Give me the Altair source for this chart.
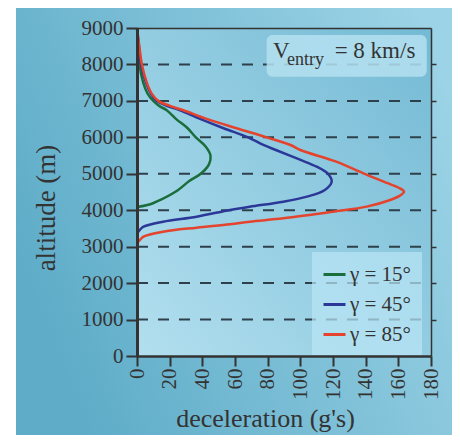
import altair as alt
import pandas as pd

FONT = "Liberation Serif"
TXT = "#333333"

series_labels = ["γ = 15°", "γ = 45°", "γ = 85°"]
series_colors = ["#1b6d3b", "#2b3898", "#e4432d"]

# altitude (m) and deceleration (g's)
alt_15 = [9000, 8500, 8000, 7500, 7200, 7000, 6850, 6750, 6500, 6250, 6000, 5750, 5500, 5250, 5000, 4800, 4550, 4300, 4150, 4090]
g_15 = [0, 0.8, 1.5, 3.8, 6.5, 10, 14, 18, 24, 31, 36, 42, 45, 44, 39, 32, 25, 15, 7, 0]

alt_45 = [9000, 8500, 8000, 7500, 7200, 7000, 6850, 6750, 6500, 6250, 6000, 5800, 5653, 5400, 5195, 4995, 4784, 4555, 4372, 4235, 4098, 4007, 3823, 3686, 3548, 3450, 3367]
g_45 = [0, 1.2, 2.5, 5.5, 8.5, 12, 19, 26, 39, 53, 68, 77, 85, 99, 110, 117, 119.2, 115, 104, 89.6, 69, 57, 36.5, 16, 4, 1.5, 0]

alt_85 = [9000, 8500, 8000, 7500, 7200, 7000, 6850, 6750, 6500, 6250, 6000, 5790, 5653, 5332, 5013, 4750, 4600, 4510, 4400, 4281, 4098, 3960, 3777, 3686, 3613, 3521, 3411, 3275, 3170, 3093]
g_85 = [0, 1.4, 3, 6, 9, 13, 21, 28, 43, 61, 79.5, 94, 100, 122, 138.6, 153, 161, 163.5, 161, 155, 140.6, 120, 89.6, 69, 57, 36.5, 16, 4, 1.5, 0]

x_ticks = list(range(0, 181, 20))
y_ticks = list(range(0, 9001, 1000))
grid_alts = list(range(1000, 8001, 1000))

ann_text = ["V", "entry", "= 8 km/s"]
ann_x = [83.3, 91.8, 121.0]
ann_y = [8178, 7986, 8178]
ann_size = [23, 18, 23]

box_x = [79.4, 177.4]
box_y = [7665, 8809]

rows = []
for lab, alts, gs in [(series_labels[0], alt_15, g_15),
                      (series_labels[1], alt_45, g_45),
                      (series_labels[2], alt_85, g_85)]:
    for i, (a, g) in enumerate(zip(alts, gs)):
        rows.append({"series": lab, "alt": a, "g": g, "i": i})
df = pd.DataFrame(rows)

W, H = 294, 328
xscale = alt.Scale(domain=[0, 180], nice=False, zero=False)
yscale = alt.Scale(domain=[0, 9000], nice=False)

one = pd.DataFrame({"k": [0]})

outer = alt.Chart(one).mark_rect(
    fill=alt.Gradient(gradient="linear",
                      stops=[alt.GradientStop(color="#5eacc8", offset=0),
                             alt.GradientStop(color="#9cd3e6", offset=1)],
                      x1=0, y1=0.6, x2=1, y2=0.2)
).encode(x=alt.value(-121), x2=alt.value(315), y=alt.value(-20), y2=alt.value(407))

inner = alt.Chart(one).mark_rect(
    fill=alt.Gradient(gradient="linear",
                      stops=[alt.GradientStop(color="#b2dfef", offset=0),
                             alt.GradientStop(color="#74bad4", offset=1)],
                      x1=0, y1=1, x2=1, y2=0)
).encode(x=alt.value(0), x2=alt.value(W), y=alt.value(0), y2=alt.value(H))

grid = alt.Chart(pd.DataFrame({"alt": grid_alts})).mark_rule(
    strokeDash=[11, 10], color="#2e404b", strokeWidth=2
).encode(
    y=alt.Y("alt:Q", scale=yscale,
            axis=alt.Axis(orient="right", labels=False, ticks=True, tickSize=5, tickWidth=1.5,
                          tickColor=TXT, domain=True, domainColor=TXT, domainWidth=1.5,
                          grid=False, values=grid_alts, title=None, zindex=1)),
    x=alt.value(0), x2=alt.value(W),
)

box = alt.Chart(pd.DataFrame({"x0": [box_x[0]], "x1": [box_x[1]], "y0": [box_y[0]], "y1": [box_y[1]]})).mark_rect(
    fill="#b4e0f0", opacity=0.85, cornerRadius=6
).encode(
    x=alt.X("x0:Q", scale=xscale,
            axis=alt.Axis(orient="top", labels=False, ticks=False, grid=False, title=None,
                          domain=True, domainColor=TXT, domainWidth=1.5, zindex=1)),
    x2="x1",
    y=alt.Y("y0:Q", scale=yscale, axis=None),
    y2="y1",
)

lines = alt.Chart(df).mark_line(strokeWidth=2.5, interpolate="catmull-rom").encode(
    x=alt.X("g:Q", scale=xscale,
            axis=alt.Axis(orient="bottom", values=x_ticks, labelAngle=270, labelAlign="right",
                          labelBaseline="middle", labelFont=FONT, labelFontSize=21, labelColor=TXT,
                          labelPadding=2, tickSize=10, tickWidth=2, tickColor=TXT,
                          domainColor=TXT, domainWidth=2.5, grid=False,
                          title="deceleration (g's)", titleFont=FONT, titleFontSize=26,
                          titleFontWeight="normal", titleColor=TXT, titleX=128, titleY=70,
                          titleAlign="center", titleBaseline="alphabetic", zindex=1,
                          labelOverlap=False)),
    y=alt.Y("alt:Q", scale=yscale,
            axis=alt.Axis(orient="left", values=y_ticks, format="d", labelFont=FONT, labelFontSize=21,
                          labelColor=TXT, labelPadding=3, tickSize=11, tickWidth=2, tickColor=TXT,
                          domainColor=TXT, domainWidth=3, grid=False,
                          title="altitude (m)", titleFont=FONT, titleFontSize=27,
                          titleFontWeight="normal", titleColor=TXT, titleX=-83, titleY=179.5,
                          titleAngle=270, titleAlign="center", titleBaseline="alphabetic",
                          zindex=1, labelOverlap=False)),
    color=alt.Color("series:N", scale=alt.Scale(domain=series_labels, range=series_colors),
                    legend=alt.Legend(title=None, orient="none", legendX=175, legendY=224,
                                      fillColor="rgba(185,230,245,0.7)", padding=10,
                                      symbolType="stroke", symbolStrokeWidth=3, symbolSize=484,
                                      labelFont=FONT, labelFontSize=21, labelColor=TXT,
                                      rowPadding=7, labelOffset=3)),
    order="i:Q",
)

ann = alt.Chart(pd.DataFrame({"t": ann_text, "x": ann_x, "y": ann_y, "s": ann_size})).mark_text(
    align="left", baseline="alphabetic", font=FONT, color=TXT
).encode(
    x=alt.X("x:Q", scale=xscale, axis=None),
    y=alt.Y("y:Q", scale=yscale, axis=None),
    text="t:N",
    size=alt.Size("s:Q", scale=None),
)

chart = alt.layer(outer, inner, grid, box, lines, ann).resolve_axis(
    x="independent", y="independent"
).properties(
    width=W, height=H, background="white",
    autosize=alt.AutoSizeParams(type="none"),
    padding={"left": 129, "top": 20, "right": 21, "bottom": 79},
).configure_view(stroke=None)

chart.save("out.html", embed_options={"renderer": "svg", "actions": False})
